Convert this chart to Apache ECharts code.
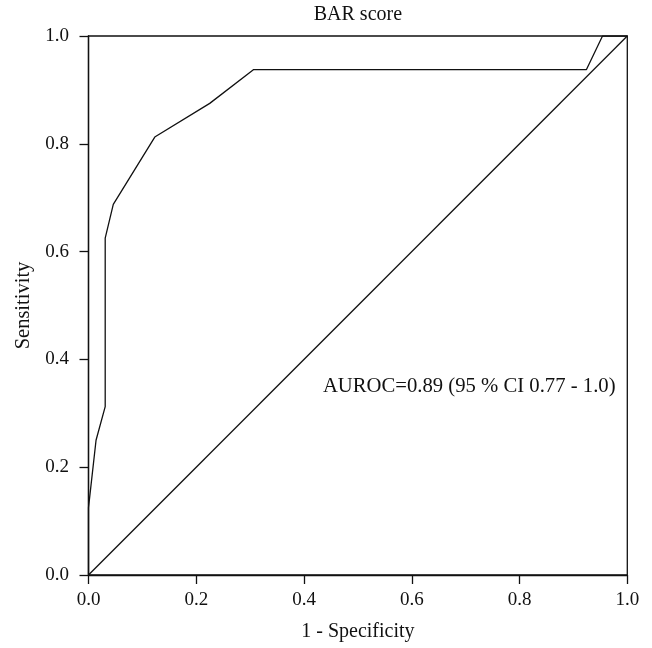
<!DOCTYPE html>
<html><head><meta charset="utf-8">
<script src="https://cdn.jsdelivr.net/npm/echarts@6/dist/echarts.min.js"></script>
<style>html,body{margin:0;padding:0;background:#fff}#c{width:652px;height:648px}</style>
</head><body><div id="c"></div>
<script>
const fpr = [0, 0, 0.014, 0.031, 0.031, 0.046, 0.123, 0.225, 0.306, 0.924, 0.954, 1.0];
const tpr = [0, 0.125, 0.25, 0.3125, 0.625, 0.6875, 0.8125, 0.875, 0.9375, 0.9375, 1.0, 1.0];
const diagX = [0, 1];
const diagY = [0, 1];
const tickLabels = ['0.0', '0.2', '0.4', '0.6', '0.8', '1.0'];
const titleText = 'BAR score';
const annotText = 'AUROC=0.89 (95 % CI 0.77 - 1.0)';
const annotPos = [0.435, 0.349];

const font = 'Liberation Serif';
const ink = '#111';
const chart = echarts.init(document.getElementById('c'));
const lbl = v => tickLabels[Math.round(v * 5)];
chart.setOption({
  animation: false,
  grid: { left: 88.5, right: 24.7, top: 36, bottom: 73, show: true, borderColor: ink, borderWidth: 1.3, backgroundColor: 'transparent' },
  xAxis: {
    type: 'value', min: 0, max: 1, interval: 0.2,
    name: '1 - Specificity', nameLocation: 'middle', nameGap: 47,
    nameTextStyle: { fontFamily: font, fontSize: 20, color: ink },
    axisLine: { show: true, onZero: false, lineStyle: { color: ink, width: 1.3 } },
    axisTick: { show: true, length: 9, lineStyle: { color: ink, width: 1.3 } },
    axisLabel: { fontFamily: font, fontSize: 19, color: ink, margin: 16, formatter: lbl },
    splitLine: { show: false }
  },
  yAxis: {
    type: 'value', min: 0, max: 1, interval: 0.2,
    name: 'Sensitivity', nameLocation: 'middle', nameGap: 54,
    nameTextStyle: { fontFamily: font, fontSize: 20.5, color: ink },
    axisLine: { show: true, onZero: false, lineStyle: { color: ink, width: 1.3 } },
    axisTick: { show: true, length: 9, lineStyle: { color: ink, width: 1.3 } },
    axisLabel: { fontFamily: font, fontSize: 19, color: ink, margin: 19.5, formatter: lbl },
    splitLine: { show: false }
  },
  series: [
    { type: 'line', data: fpr.map((x, i) => [x, tpr[i]]), showSymbol: false, symbol: 'none',
      lineStyle: { color: ink, width: 1.3 } },
    { type: 'line', data: diagX.map((x, i) => [x, diagY[i]]), showSymbol: false, symbol: 'none',
      lineStyle: { color: ink, width: 1.3 } }
  ]
});
const p = chart.convertToPixel({ gridIndex: 0 }, annotPos);
const tl = chart.convertToPixel({ gridIndex: 0 }, [0.5, 1]);
chart.setOption({
  graphic: [
    { type: 'text', x: tl[0], y: 15, silent: true,
      style: { text: titleText, textAlign: 'center', textVerticalAlign: 'middle', fontFamily: font, fontSize: 20, fill: ink } },
    { type: 'text', x: p[0], y: p[1], silent: true,
      style: { text: annotText, textAlign: 'left', textVerticalAlign: 'middle', fontFamily: font, fontSize: 20.7, fill: ink } }
  ]
});
</script></body></html>
